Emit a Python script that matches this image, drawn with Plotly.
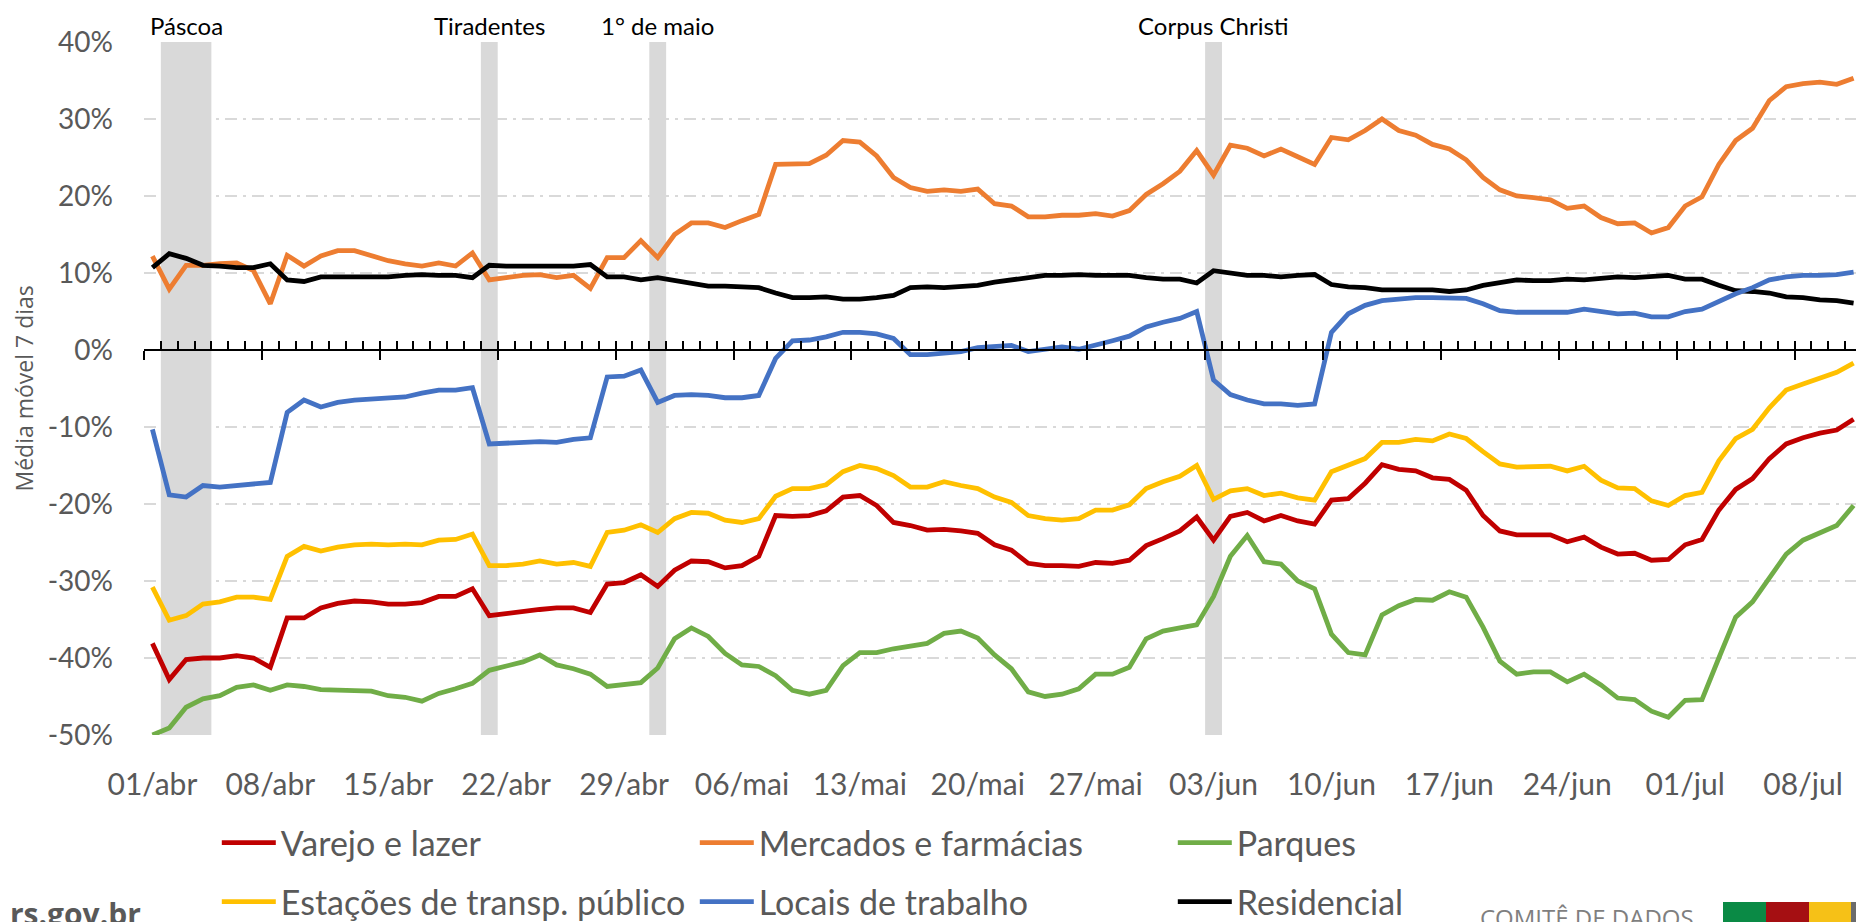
import pandas as pd
import plotly.graph_objects as go

# ---------------- data ----------------
start_date = "2020-04-01"
n_days = 102
month_pt = {4: "abr", 5: "mai", 6: "jun", 7: "jul"}

varejo = [-38.1, -42.8, -40.2, -40.0, -40.0, -39.7, -40.0, -41.2, -34.8, -34.8, -33.5, -32.9, -32.6, -32.7, -33.0, -33.0, -32.8, -32.0, -32.0, -31.0, -34.5,
          -34.2, -33.9, -33.7, -33.5, -33.5, -34.1, -30.4, -30.2, -29.2, -30.7, -28.6, -27.4, -27.5, -28.3, -28.0, -26.8, -21.5, -21.6, -21.5, -20.9,
          -19.1, -18.9, -20.2, -22.4, -22.8, -23.4, -23.3, -23.5, -23.8, -25.3, -26.0, -27.7, -28.0, -28.0, -28.1, -27.6, -27.7, -27.3, -25.4, -24.5,
          -23.5, -21.7, -24.7, -21.6, -21.1, -22.2, -21.5, -22.2, -22.6, -19.5, -19.3, -17.3, -14.9, -15.5, -15.7, -16.6, -16.8, -18.2, -21.5, -23.5,
          -24.0, -24.0, -24.0, -24.9, -24.3, -25.6, -26.5, -26.4, -27.3, -27.2, -25.3, -24.6, -20.8, -18.1, -16.7, -14.1, -12.2, -11.4, -10.8, -10.4, -9.0]

mercados = [12.2, 7.9, 11.0, 11.0, 11.2, 11.3, 10.3, 6.0, 12.3, 10.9, 12.2, 12.9, 12.9, 12.2, 11.6, 11.2, 10.9, 11.3, 10.9, 12.6, 9.1,
            9.4, 9.7, 9.8, 9.4, 9.7, 8.0, 12.0, 12.0, 14.2, 12.0, 15.0, 16.5, 16.5, 15.9, 16.8, 17.6, 24.1, 24.2, 24.2, 25.3,
            27.2, 27.0, 25.2, 22.4, 21.1, 20.6, 20.8, 20.6, 20.9, 19.0, 18.7, 17.3, 17.3, 17.5, 17.5, 17.7, 17.4, 18.1, 20.2, 21.6,
            23.2, 25.9, 22.7, 26.6, 26.2, 25.2, 26.1, 25.1, 24.1, 27.6, 27.3, 28.5, 30.0, 28.5, 27.9, 26.7, 26.1, 24.7, 22.4, 20.8,
            20.0, 19.8, 19.5, 18.4, 18.7, 17.2, 16.4, 16.5, 15.2, 15.9, 18.7, 19.9, 24.1, 27.2, 28.8, 32.4, 34.2, 34.6, 34.8, 34.5, 35.3]

parques = [-50.0, -49.1, -46.4, -45.3, -44.9, -43.8, -43.5, -44.2, -43.5, -43.7, -44.1, -44.2, -44.2, -44.3, -44.9, -45.1, -45.6, -44.6, -44.0, -43.3, -41.6,
           -41.0, -40.5, -39.6, -40.9, -41.4, -42.1, -43.7, -43.5, -43.2, -41.3, -37.5, -36.1, -37.2, -39.4, -40.9, -41.1, -42.3, -44.2, -44.7, -44.2,
           -41.0, -39.3, -39.3, -38.8, -38.4, -38.1, -36.8, -36.5, -37.4, -39.6, -41.4, -44.4, -45.0, -44.7, -44.0, -42.1, -42.1, -41.2, -37.5, -36.5,
           -36.1, -35.7, -32.0, -26.8, -24.1, -27.5, -27.8, -30.0, -31.0, -36.9, -39.3, -39.6, -34.4, -33.2, -32.4, -32.5, -31.4, -32.1, -36.0, -40.4,
           -42.1, -41.8, -41.8, -43.1, -42.1, -43.5, -45.2, -45.4, -46.9, -47.7, -45.5, -45.4, -40.0, -34.7, -32.7, -29.7, -26.5, -24.7, -23.7, -22.8, -20.2]

estacoes = [-30.8, -35.1, -34.5, -33.0, -32.7, -32.1, -32.1, -32.4, -26.8, -25.5, -26.1, -25.6, -25.3, -25.2, -25.3, -25.2, -25.3, -24.7, -24.6, -23.9, -28.0,
            -28.0, -27.8, -27.4, -27.8, -27.6, -28.1, -23.7, -23.4, -22.7, -23.7, -21.9, -21.1, -21.2, -22.1, -22.4, -21.9, -19.0, -18.0, -18.0, -17.5,
            -15.8, -15.0, -15.4, -16.3, -17.8, -17.8, -17.1, -17.6, -18.0, -19.1, -19.8, -21.5, -21.9, -22.1, -21.9, -20.8, -20.8, -20.1, -18.0, -17.1,
            -16.4, -15.0, -19.4, -18.3, -18.0, -18.9, -18.6, -19.2, -19.5, -15.8, -14.9, -14.1, -12.0, -12.0, -11.6, -11.8, -10.9, -11.5, -13.2, -14.8,
            -15.2, -15.1, -15.1, -15.7, -15.1, -16.9, -17.9, -18.0, -19.6, -20.2, -18.9, -18.5, -14.4, -11.5, -10.3, -7.5, -5.2, -4.4, -3.7, -2.9, -1.7]

locais = [-10.3, -18.8, -19.1, -17.6, -17.8, -17.6, -17.5, -17.2, -8.1, -6.5, -7.4, -6.8, -6.5, -6.4, -6.3, -6.1, -5.6, -5.2, -5.2, -4.9, -12.2,
          -12.1, -12.0, -11.9, -12.0, -11.6, -11.4, -3.5, -3.4, -2.6, -6.8, -5.9, -5.8, -5.9, -6.2, -6.2, -5.9, -1.1, 1.2, 1.3, 1.7,
          2.3, 2.3, 2.1, 1.5, -0.6, -0.6, -0.4, -0.2, 0.3, 0.4, 0.6, -0.2, 0.1, 0.4, 0.1, 0.6, 1.2, 1.8, 3.0, 3.6,
          4.1, 5.0, -3.9, -5.8, -6.5, -7.0, -7.0, -7.2, -7.0, 2.3, 4.7, 5.8, 6.4, 6.6, 6.8, 6.8, 6.8, 6.7, 6.0, 5.1,
          4.9, 4.9, 5.0, 4.9, 5.3, 5.0, 4.7, 4.8, 4.3, 4.3, 5.0, 5.3, 6.3, 7.3, 8.1, 9.1, 9.5, 9.7, 9.7, 9.8, 10.1]

residencial = [10.7, 12.5, 11.9, 11.0, 10.9, 10.7, 10.7, 11.2, 9.1, 8.9, 9.5, 9.5, 9.5, 9.5, 9.5, 9.7, 9.8, 9.7, 9.7, 9.4, 11.0,
               10.9, 10.9, 10.9, 10.8, 10.9, 11.1, 9.5, 9.5, 9.1, 9.4, 9.0, 8.6, 8.3, 8.3, 8.2, 8.1, 7.4, 6.8, 6.8, 6.9,
               6.6, 6.6, 6.8, 7.1, 8.1, 8.2, 8.1, 8.2, 8.4, 8.8, 9.1, 9.5, 9.7, 9.7, 9.8, 9.7, 9.7, 9.7, 9.4, 9.2,
               9.2, 8.7, 10.3, 10.0, 9.7, 9.7, 9.5, 9.7, 9.8, 8.5, 8.2, 8.1, 7.8, 7.8, 7.8, 7.8, 7.6, 7.8, 8.4, 8.8,
               9.1, 9.0, 9.0, 9.2, 9.1, 9.3, 9.5, 9.4, 9.5, 9.7, 9.2, 9.2, 8.4, 7.7, 7.6, 7.4, 6.9, 6.8, 6.5, 6.4, 6.1]

tick_labels = ["01/abr", "08/abr", "15/abr", "22/abr", "29/abr", "06/mai", "13/mai",
               "20/mai", "27/mai", "03/jun", "10/jun", "17/jun", "24/jun", "01/jul", "08/jul"]
y_tick_values = [-50, -40, -30, -20, -10, 0, 10, 20, 30, 40]
y_tick_labels = ["-50%", "-40%", "-30%", "-20%", "-10%", "0%", "10%", "20%", "30%", "40%"]

holiday_names = ["Páscoa", "Tiradentes", "1° de maio", "Corpus Christi"]
holiday_first = ["02/abr", "21/abr", "01/mai", "03/jun"]
holiday_last = ["04/abr", "21/abr", "01/mai", "03/jun"]

series_names = ["Varejo e lazer", "Mercados e farmácias", "Parques",
                "Estações de transp. público", "Locais de trabalho", "Residencial"]
series_values = [varejo, mercados, parques, estacoes, locais, residencial]
series_colors = ["#C00000", "#ED7D31", "#70AD47", "#FFC000", "#4472C4", "#000000"]

# ---------------- layout geometry ----------------
# the page body has an 8px margin: figure pixel = window pixel - 8
OFF = 8
W, H = 1864 - OFF, 922 - OFF
PLOT_L, PLOT_R, PLOT_T, PLOT_B = 144, 1862, 42, 735          # in window pixels
L, R = PLOT_L - OFF, W - (PLOT_R - OFF)
T, B = PLOT_T - OFF, H - (PLOT_B - OFF)
PW, PH = W - L - R, H - T - B


def px_x(vx):
    return (vx - OFF - L) / PW


def px_y(vy):
    return (H - B - (vy - OFF)) / PH


def cont_x(vx):
    return (vx - OFF) / W


def cont_y(vy):
    return 1 - (vy - OFF) / H


dates = pd.date_range(start_date, periods=n_days)
categories = [f"{d.day:02d}/{month_pt[d.month]}" for d in dates]

FONT = "Lato, 'Liberation Sans', sans-serif"
GREY = "#595959"

fig = go.Figure()
draw_order = [3, 0, 2, 1, 5, 4]  # z-order similar to the reference
for i in draw_order:
    fig.add_trace(go.Scatter(
        x=categories, y=series_values[i], mode="lines", name=series_names[i],
        line=dict(color=series_colors[i], width=4.8),
        legend="legend" if i < 3 else "legend2",
        legendrank=i,
    ))

# helper empty traces so the overlay axes (zero line + ticks) are built
fig.add_trace(go.Scatter(x=[], y=[], xaxis="x2", showlegend=False, hoverinfo="skip"))
fig.add_trace(go.Scatter(x=[], y=[], xaxis="x3", showlegend=False, hoverinfo="skip"))

y_min, y_max = min(y_tick_values), max(y_tick_values)
zero_pos = (0 - y_min) / (y_max - y_min)
x_range = [-0.5, n_days - 0.5]

shapes = []
annotations = []
for name, a, b in zip(holiday_names, holiday_first, holiday_last):
    i0 = categories.index(a) - 0.5
    i1 = categories.index(b) + 0.5
    shapes.append(dict(type="rect", xref="x", yref="y", x0=i0, x1=i1, y0=y_min, y1=y_max,
                       fillcolor="#D9D9D9", line=dict(width=0), layer="below"))
    annotations.append(dict(text=name, x=(i0 + i1) / 2, xref="x", y=px_y(9), yref="paper",
                            showarrow=False, xanchor="center", yanchor="top",
                            font=dict(family=FONT, size=24, color="#000000")))

annotations.append(dict(text="Média móvel 7 dias", textangle=-90, x=px_x(23), xref="paper",
                        y=0.5, yref="paper", showarrow=False, xanchor="center", yanchor="middle",
                        font=dict(family="'Open Sans', sans-serif", size=23, color=GREY)))

# footer (logo remnants, cut at the bottom edge)
annotations.append(dict(text="<b>rs.gov.br</b>", x=px_x(OFF), xref="paper", xanchor="left",
                        y=px_y(891), yref="paper", yanchor="top", showarrow=False,
                        font=dict(family="'Open Sans', sans-serif", size=30, color=GREY)))
annotations.append(dict(text="COMITÊ DE DADOS", x=px_x(1478), xref="paper", xanchor="left",
                        y=px_y(899), yref="paper", yanchor="top", showarrow=False,
                        font=dict(family="'Open Sans', sans-serif", size=24, color="#7F7F7F")))

flag_colors = ["#0A8A45", "#A50F12", "#F6C117", "#6B6B6B"]
flag_edges = [1723, 1766, 1809, 1851, 1866]
for c, xa, xb in zip(flag_colors, flag_edges[:-1], flag_edges[1:]):
    shapes.append(dict(type="rect", xref="paper", yref="paper",
                       x0=px_x(xa), x1=px_x(xb), y0=px_y(926), y1=px_y(902),
                       fillcolor=c, line=dict(width=0)))

fig.update_layout(
    width=W, height=H,
    margin=dict(l=L, r=R, t=T, b=B, autoexpand=False),
    paper_bgcolor="white", plot_bgcolor="white",
    showlegend=True,
    xaxis=dict(type="category", range=x_range, tickmode="array", tickvals=tick_labels,
               ticktext=tick_labels, showgrid=False, zeroline=False, showline=False,
               ticks="outside", ticklen=23, tickcolor="rgba(0,0,0,0)",
               tickfont=dict(family=FONT, size=30, color=GREY)),
    xaxis2=dict(type="linear", overlaying="x", anchor="free", position=zero_pos, range=x_range,
                tickmode="array", tickvals=[k - 0.5 for k in range(n_days + 1)],
                showticklabels=False, ticks="inside", ticklen=8, tickwidth=1.5, tickcolor="black",
                showline=True, linecolor="black", linewidth=2, showgrid=False, zeroline=False),
    xaxis3=dict(type="linear", overlaying="x", anchor="free", position=zero_pos, range=x_range,
                tickmode="array", tickvals=[k - 0.5 for k in range(0, n_days + 1, 7)],
                showticklabels=False, ticks="outside", ticklen=9, tickwidth=2, tickcolor="black",
                showline=False, showgrid=False, zeroline=False),
    yaxis=dict(range=[y_min, y_max], tickmode="array", tickvals=y_tick_values, ticktext=y_tick_labels,
               showgrid=True, gridcolor="#D9D9D9", gridwidth=1.5, griddash="12px,6px,3px,6px",
               zeroline=False, showline=False, ticks="", ticklabelstandoff=30,
               tickfont=dict(family=FONT, size=28, color=GREY)),
    legend=dict(orientation="h", xref="container", yref="container", x=cont_x(216.8), y=cont_y(843),
                xanchor="left", yanchor="middle", entrywidth=409, entrywidthmode="pixels",
                itemwidth=54, font=dict(family=FONT, size=34, color=GREY),
                bgcolor="rgba(0,0,0,0)", traceorder="normal"),
    legend2=dict(orientation="h", xref="container", yref="container", x=cont_x(216.8), y=cont_y(902),
                 xanchor="left", yanchor="middle", entrywidth=409, entrywidthmode="pixels",
                 itemwidth=54, font=dict(family=FONT, size=34, color=GREY),
                 bgcolor="rgba(0,0,0,0)", traceorder="normal"),
    shapes=shapes,
    annotations=annotations,
)

fig.write_html("out.html")
